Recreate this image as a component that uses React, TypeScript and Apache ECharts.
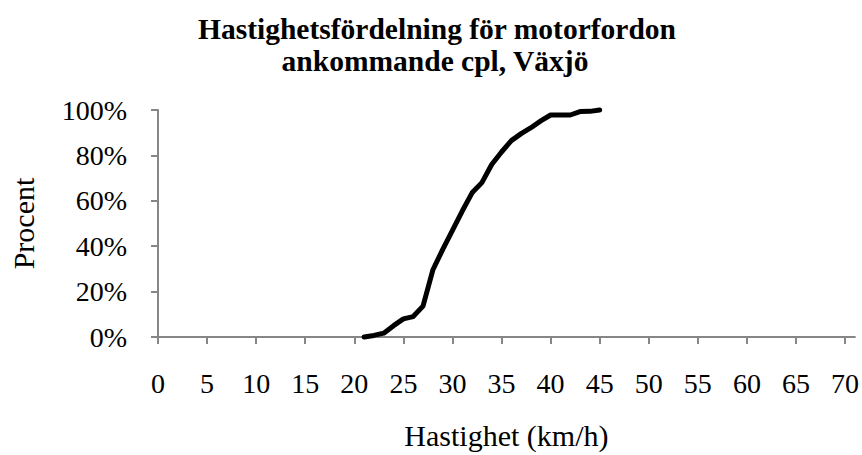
import React, { useEffect, useRef } from "react";
import * as echarts from "echarts";

const speeds = [21, 22, 23, 24, 25, 26, 27, 28, 29, 30, 31, 32, 33, 34, 35, 36, 37, 38, 39, 40, 41, 42, 43, 44, 45];
const cumulativePercent = [0, 0.7, 1.7, 5.0, 8.0, 9.0, 13.6, 29.5, 38.5, 47, 55.5, 63.5, 68, 76, 81.5, 86.5, 89.6, 92.2, 95.2, 97.8, 97.8, 97.8, 99.3, 99.4, 100];
const xTickValues = [0, 5, 10, 15, 20, 25, 30, 35, 40, 45, 50, 55, 60, 65, 70];
const titleLine1 = "Hastighetsfördelning för motorfordon";
const titleLine2 = "ankommande cpl, Växjö";
const xAxisName = "Hastighet (km/h)";
const yAxisName = "Procent";

const FONT = "'Liberation Serif', 'Times New Roman', serif";
const AXIS_COLOR = "#868686";

export default function App() {
  const ref = useRef<HTMLDivElement>(null);
  useEffect(() => {
    document.body.style.margin = "0";
    if (!ref.current) return;
    const chart = echarts.init(ref.current, null, { renderer: "svg" });
    chart.setOption({
      animation: false,
      backgroundColor: "#ffffff",
      textStyle: { fontFamily: FONT },
      title: [
        {
          text: titleLine1,
          left: 432,
          top: 9,
          textAlign: "center",
          textStyle: { fontFamily: FONT, fontSize: 29.5, fontWeight: "bold", color: "#000" },
        },
        {
          text: titleLine2,
          left: 430,
          top: 41,
          textAlign: "center",
          textStyle: { fontFamily: FONT, fontSize: 29.5, fontWeight: "bold", color: "#000" },
        },
      ],
      grid: { left: 154, right: 5, top: 110, bottom: 113, containLabel: false },
      xAxis: {
        type: "value",
        min: 0,
        max: 71,
        interval: 5,
        name: xAxisName,
        nameLocation: "middle",
        nameGap: 83,
        nameTextStyle: { fontFamily: FONT, fontSize: 30, color: "#000" },
        axisLine: { show: true, lineStyle: { color: AXIS_COLOR, width: 2 } },
        axisTick: { show: true, length: 7, customValues: xTickValues, lineStyle: { color: AXIS_COLOR, width: 2 } },
        axisLabel: { show: true, margin: 32, customValues: xTickValues, fontFamily: FONT, fontSize: 28, color: "#000" },
        splitLine: { show: false },
      },
      yAxis: {
        type: "value",
        min: 0,
        max: 100,
        interval: 20,
        name: yAxisName,
        nameLocation: "middle",
        nameGap: 120,
        nameTextStyle: { fontFamily: FONT, fontSize: 30, color: "#000" },
        axisLine: { show: true, lineStyle: { color: AXIS_COLOR, width: 2 } },
        axisTick: { show: true, length: 7, lineStyle: { color: AXIS_COLOR, width: 2 } },
        axisLabel: { margin: 31, fontFamily: FONT, fontSize: 28, color: "#000", formatter: (v: number) => `${v}%` },
        splitLine: { show: false },
      },
      series: [
        {
          type: "line",
          data: speeds.map((s, i) => [s, cumulativePercent[i]]),
          showSymbol: false,
          symbol: "none",
          smooth: false,
          clip: false,
          lineStyle: { color: "#000", width: 5, cap: "round", join: "round" },
        },
      ],
    });
    return () => chart.dispose();
  }, []);
  return <div ref={ref} style={{ width: 862, height: 455 }} />;
}
